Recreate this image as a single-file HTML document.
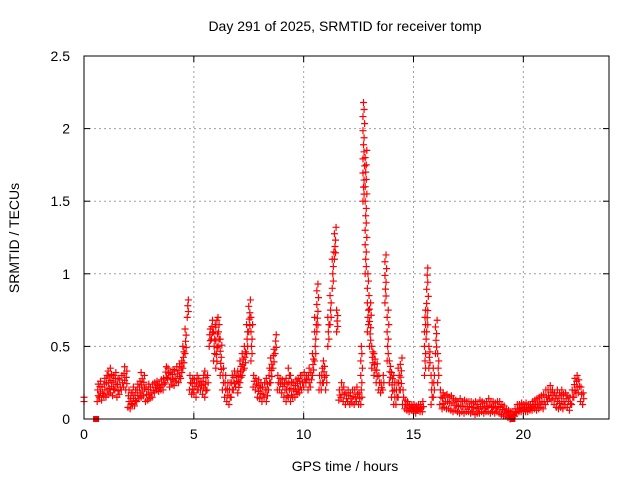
<!DOCTYPE html>
<html><head><meta charset="utf-8"><style>
body{margin:0;background:#fff}
svg{display:block;font-family:"Liberation Sans",Arial,sans-serif}
</style></head><body>
<svg id="chart" width="640" height="480">
<text x="345" y="31" font-size="14" text-anchor="middle" fill="#000">Day 291 of 2025, SRMTID for receiver tomp</text>
<text x="345" y="471" font-size="14" text-anchor="middle" fill="#000">GPS time / hours</text>
<text transform="translate(19,238) rotate(-90)" font-size="14" text-anchor="middle" fill="#000">SRMTID / TECUs</text>
<g id="grid"></g><g id="marks"></g><g id="axes"></g>
</svg>
<script>
const xTicks=[0,5,10,15,20];
const yTicks=[0,0.5,1,1.5,2,2.5];
const yTickLabels=["0","0.5","1","1.5","2","2.5"];
const tStart=0.6, tStep=0.1;
const seriesLow=[.12,.15,.13,.16,.15,.17,.18,.16,.2,.15,
.17,.2,.22,.2,.08,.07,.1,.09,.12,.14,
.15,.16,.12,.13,.14,.15,.18,.2,.19,.2,
.2,.25,.28,.22,.24,.23,.26,.25,.28,.35,
.45,.7,.2,.17,.18,.15,.2,.2,.17,.15,
.2,.5,.55,.4,.35,.5,.3,.2,.15,.12,
.1,.15,.2,.22,.18,.25,.3,.35,.45,.6,
.4,.22,.2,.15,.14,.12,.15,.12,.2,.25,
.35,.45,.2,.2,.18,.15,.12,.15,.12,.15,
.15,.17,.18,.2,.22,.25,.2,.22,.3,.4,
.6,.2,.2,.25,.2,.5,.65,.9,1.1,.6,
.13,.15,.12,.1,.12,.1,.11,.1,.12,.1,
.1,1.5,1.0,.6,.5,.35,.3,.25,.2,.18,
.2,.8,.4,.25,.15,.1,.1,.15,.2,.1,
.07,.06,.05,.06,.05,.04,.06,.05,.05,.3,
.6,.35,.1,.15,.45,.25,.1,.07,.08,.07,
.07,.06,.05,.06,.05,.04,.05,.04,.05,.05,
.04,.05,.03,.04,.04,.05,.04,.05,.05,.04,
.05,.04,.05,.04,.03,.02,.02,.01,.0,.01,
.02,.04,.05,.05,.06,.05,.05,.06,.06,.07,
.06,.07,.08,.07,.1,.12,.14,.13,.1,.08,
.07,.08,.07,.1,.08,.06,.1,.15,.18,.18,
.12,.1];
const seriesHigh=[.24,.26,.22,.28,.3,.33,.35,.3,.32,.28,
.27,.3,.36,.33,.2,.18,.22,.2,.24,.26,
.32,.3,.22,.24,.22,.24,.25,.26,.24,.27,
.28,.36,.35,.32,.34,.33,.36,.38,.4,.5,
.62,.82,.3,.28,.27,.3,.28,.26,.3,.33,
.3,.62,.68,.65,.68,.7,.55,.35,.3,.25,
.25,.3,.33,.3,.33,.4,.45,.5,.65,.82,
.7,.3,.28,.27,.25,.22,.25,.28,.35,.42,
.48,.58,.3,.28,.27,.25,.28,.35,.3,.25,
.27,.28,.3,.3,.32,.3,.35,.32,.45,.7,
.93,.3,.35,.4,.3,.7,.85,1.15,1.32,.75,
.2,.25,.22,.18,.2,.18,.2,.2,.22,.18,
.5,2.18,1.85,1.0,.8,.5,.45,.38,.3,.25,
.3,1.13,.75,.4,.32,.3,.25,.35,.42,.2,
.13,.12,.1,.1,.1,.09,.1,.1,.12,.75,
1.04,.5,.3,.35,.68,.45,.2,.18,.16,.17,
.15,.16,.14,.13,.12,.14,.12,.13,.12,.12,
.12,.11,.12,.1,.13,.12,.11,.12,.14,.12,
.12,.11,.12,.12,.1,.09,.07,.06,.05,.05,
.07,.1,.1,.11,.1,.11,.1,.1,.12,.13,
.14,.15,.16,.17,.2,.2,.23,.2,.18,.2,
.18,.2,.17,.18,.16,.15,.2,.28,.3,.27,
.22,.18];
const extraX=[0,0];
const extraY=[0.15,0.12];
const squareX=[0.55,19.5];
const squareY=[0,0];

const L=84,R=609,T=56,B=419,XMAX=23.9,YMAX=2.5;
const sx=v=>L+(v/XMAX)*(R-L);
const sy=v=>B-(v/YMAX)*(B-T);
const NS="http://www.w3.org/2000/svg";
function mk(tag,attrs,parent){const e=document.createElementNS(NS,tag);for(const k in attrs)e.setAttribute(k,attrs[k]);parent.appendChild(e);return e;}
const grid=document.getElementById('grid'),marks=document.getElementById('marks'),axes=document.getElementById('axes');

xTicks.forEach(v=>{
  const x=sx(v);
  if(v>0){const g=mk('line',{x1:x,y1:T,x2:x,y2:B,stroke:'#a0a0a0','stroke-dasharray':'2,3'},grid);
  
  }
  mk('line',{x1:x,y1:B,x2:x,y2:B-6,stroke:'#000'},axes);
  mk('line',{x1:x,y1:T,x2:x,y2:T+6,stroke:'#000'},axes);
  const t=mk('text',{x:x,y:B+20,'font-size':14,'text-anchor':'middle'},axes);
  t.textContent=String(v);
  
  
});
yTicks.forEach((v,i)=>{
  const y=sy(v);
  if(v>0&&v<YMAX){const g=mk('line',{x1:L,y1:y,x2:R,y2:y,stroke:'#a0a0a0','stroke-dasharray':'2,3'},grid);
  
  }
  mk('line',{x1:L,y1:y,x2:L+6,y2:y,stroke:'#000'},axes);
  mk('line',{x1:R,y1:y,x2:R-6,y2:y,stroke:'#000'},axes);
  const t=mk('text',{x:L-14,y:y+5,'font-size':14,'text-anchor':'end'},axes);
  t.textContent=yTickLabels[i];
  
  
});
const frame=mk('rect',{x:L,y:T,width:R-L,height:B-T,fill:'none',stroke:'#000'},axes);



function cross(xv,yv){
  const x=sx(xv),y=sy(yv);
  const p=mk('path',{d:`M${x-3.5},${y}h7M${x},${y-3.5}v7`,stroke:'#f00','stroke-width':1.2,fill:'none'},marks);
  
  
}
seriesLow.forEach((v,i)=>{
  const t=tStart+i*tStep, h=seriesHigh[i];
  const n=Math.max(2,Math.ceil((h-v)/0.05));
  for(let k=0;k<=n;k++){
    cross(t+(k%2?0.05:0)+(k%3===2?0.025:0), v+(h-v)*k/n);
  }
});
extraX.forEach((v,i)=>cross(v,extraY[i]));
squareX.forEach((v,i)=>{
  const s=mk('rect',{x:sx(v)-3,y:sy(squareY[i])-3,width:6,height:6,fill:'#f00'},marks);
  
  
});
</script>
</body></html>
